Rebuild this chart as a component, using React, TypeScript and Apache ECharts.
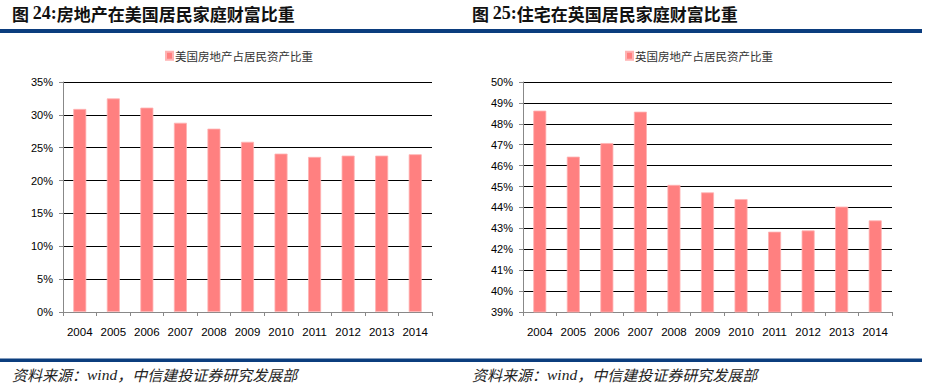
import React, { useEffect, useRef } from "react";
import * as echarts from "echarts";

const years = ["2004", "2005", "2006", "2007", "2008", "2009", "2010", "2011", "2012", "2013", "2014"];
const usShare = [30.9, 32.5, 31.1, 28.8, 27.9, 25.9, 24.1, 23.6, 23.8, 23.8, 24.0];
const ukShare = [48.63, 46.43, 47.08, 48.58, 45.08, 44.72, 44.4, 42.84, 42.9, 44.04, 43.38];
const usName = "美国房地产占居民资产比重";
const ukName = "英国房地产占居民资产比重";
const title1 = ["图 ", "24:", "房地产在美国居民家庭财富比重"];
const title2 = ["图 ", "25:", "住宅在英国居民家庭财富比重"];
const source = ["资料来源：", "wind", "，中信建投证券研究发展部"];

const BAR = "#FF8080";
const NAVY = "#0B3D7E";
const CJK = "'Noto Sans CJK SC', sans-serif";
const LAT = "'Liberation Sans', Arial, sans-serif";
const SERIF = "'Liberation Serif', 'DejaVu Serif', serif";

function titleText(parts: string[]) {
  return `{a|${parts[0]}}{b|${parts[1]}}{a|${parts[2]}}`;
}

export default function App() {
  const ref = useRef<HTMLDivElement>(null);
  useEffect(() => {
    if (!ref.current) return;
    const chart = echarts.init(ref.current, undefined, { renderer: "svg" });
    const titleRich = {
      a: { fontFamily: CJK, fontWeight: "bold", fontSize: 17, fill: "#111" },
      b: { fontFamily: SERIF, fontWeight: "bold", fontSize: 18, fill: "#111" },
    };
    const srcRich = {
      a: { fontFamily: CJK, fontStyle: "italic", fontSize: 15, fill: "#222" },
      b: { fontFamily: SERIF, fontStyle: "italic", fontSize: 15.5, fill: "#222" },
    };
    const yAxisCommon = {
      type: "value" as const,
      axisLine: { show: true, lineStyle: { color: "#888", width: 1 } },
      axisTick: { show: true, length: 4, lineStyle: { color: "#888" } },
      axisLabel: { formatter: "{value}%", color: "#000", fontFamily: LAT, fontSize: 11, margin: 10 },
      splitLine: { show: true, lineStyle: { color: "#000", width: 1 } },
    };
    const xAxisCommon = {
      type: "category" as const,
      data: years,
      boundaryGap: true,
      axisLine: { show: true, lineStyle: { color: "#888", width: 1 } },
      axisTick: { show: true, length: 4, alignWithLabel: false, lineStyle: { color: "#888" } },
      axisLabel: { color: "#000", fontFamily: LAT, fontSize: 11.5, margin: 14, interval: 0 },
    };
    const legendCommon = {
      icon: "rect",
      itemWidth: 7,
      itemHeight: 8,
      padding: 0,
      textStyle: { fontFamily: CJK, fontSize: 11.5, color: "#333", padding: [0, 0, 0, -3] },
      selectedMode: false,
    };
    chart.setOption({
      animation: false,
      backgroundColor: "#fff",
      legend: [
        { ...legendCommon, data: [usName], left: 165, top: 50 },
        { ...legendCommon, data: [ukName], left: 625, top: 50 },
      ],
      grid: [
        { left: 63, right: 495, top: 82, bottom: 75 },
        { left: 523, right: 35, top: 82, bottom: 75 },
      ],
      xAxis: [
        { ...xAxisCommon, gridIndex: 0 },
        { ...xAxisCommon, gridIndex: 1 },
      ],
      yAxis: [
        { ...yAxisCommon, gridIndex: 0, min: 0, max: 35, interval: 5 },
        { ...yAxisCommon, gridIndex: 1, min: 39, max: 50, interval: 1 },
      ],
      series: [
        {
          name: usName,
          type: "bar",
          xAxisIndex: 0,
          yAxisIndex: 0,
          data: usShare,
          barWidth: 13,
          itemStyle: { color: BAR, borderColor: "#FFB3B3", borderWidth: 0.8 },
        },
        {
          name: ukName,
          type: "bar",
          xAxisIndex: 1,
          yAxisIndex: 1,
          data: ukShare,
          barWidth: 13,
          itemStyle: { color: BAR, borderColor: "#FFB3B3", borderWidth: 0.8 },
        },
      ],
      graphic: [
        {
          type: "text",
          left: 12,
          top: 4,
          style: { text: titleText(title1), rich: titleRich, fill: "#111" },
        },
        {
          type: "text",
          left: 472,
          top: 4,
          style: { text: titleText(title2), rich: titleRich, fill: "#111" },
        },
        {
          type: "rect",
          shape: { x: 0, y: 29, width: 922, height: 4 },
          style: { fill: NAVY },
        },
        {
          type: "rect",
          shape: { x: 0, y: 358.5, width: 922, height: 3.5 },
          style: { fill: NAVY },
        },
        {
          type: "text",
          left: 12,
          top: 366,
          style: { text: `{a|${source[0]}}{b|${source[1]}}{a|${source[2]}}`, rich: srcRich },
        },
        {
          type: "text",
          left: 472,
          top: 366,
          style: { text: `{a|${source[0]}}{b|${source[1]}}{a|${source[2]}}`, rich: srcRich },
        },
      ],
    });
    return () => chart.dispose();
  }, []);
  return (
    <div
      ref={ref}
      style={{ position: "absolute", left: 0, top: 0, width: 927, height: 387 }}
    />
  );
}
